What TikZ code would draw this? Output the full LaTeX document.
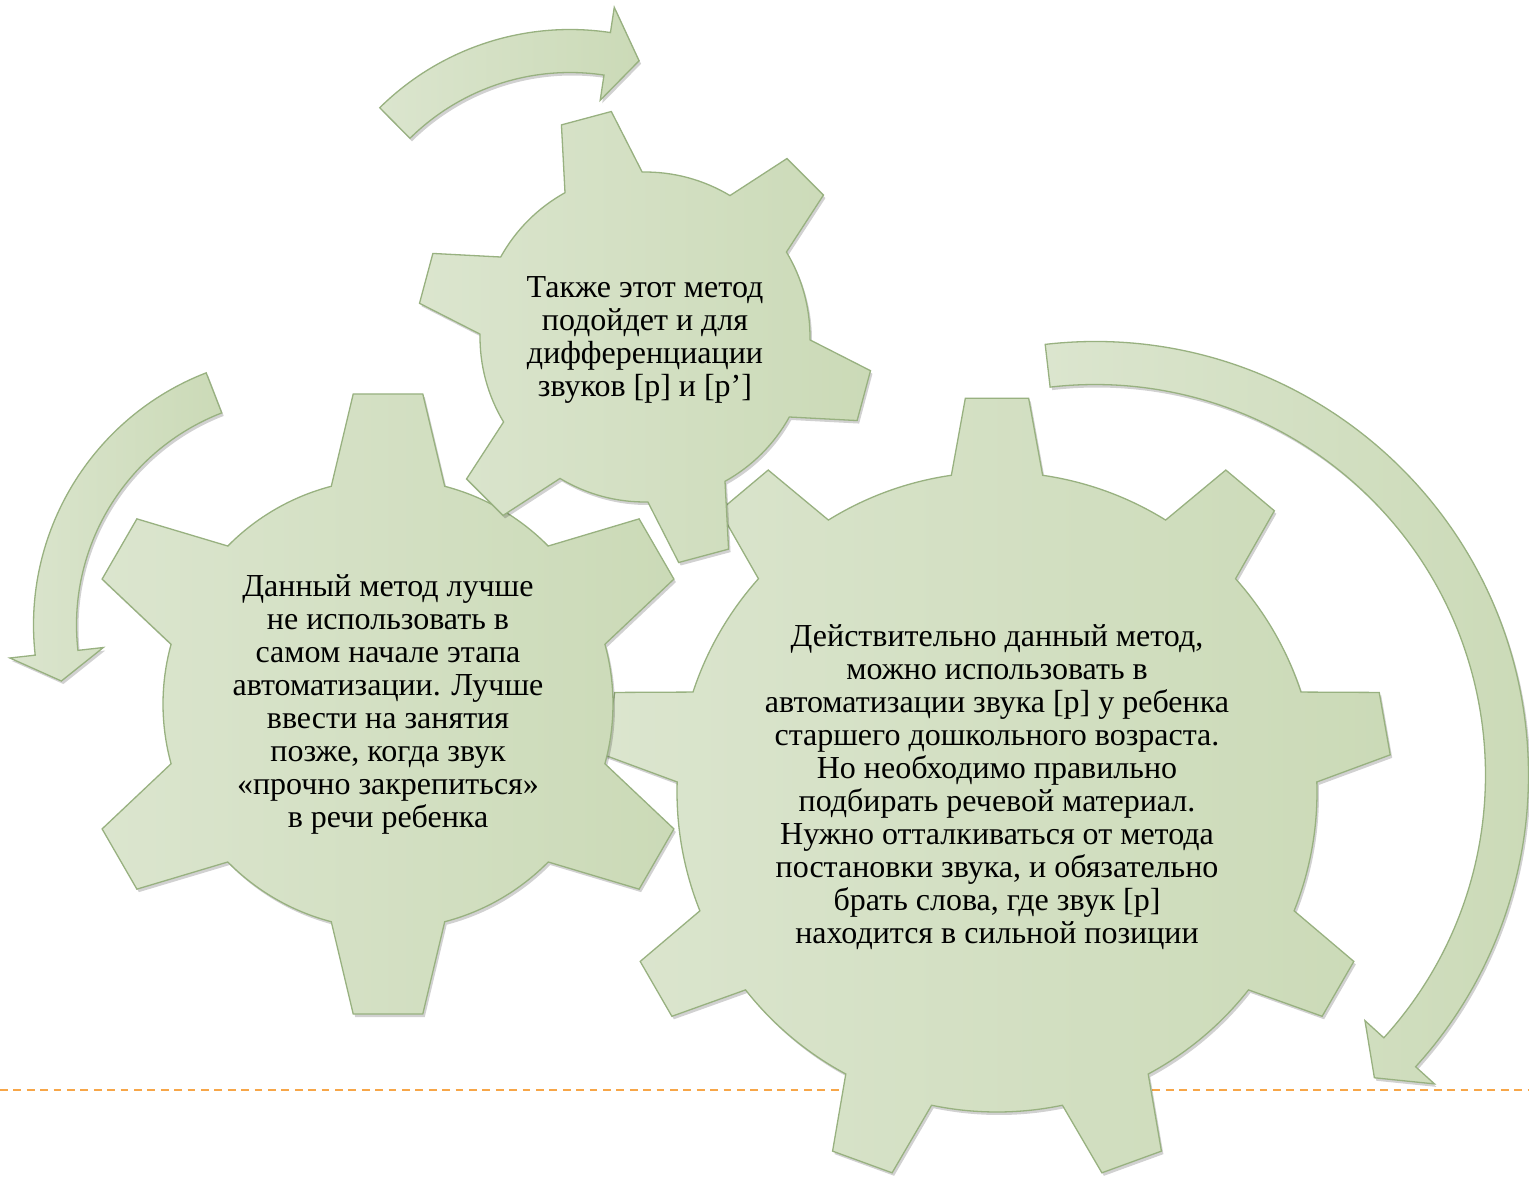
\documentclass[tikz,border=0pt]{standalone}
\usepackage{fontspec}
\setmainfont{Liberation Serif}
\usetikzlibrary{shadows}
\definecolor{gearfill}{RGB}{203,218,183}
\definecolor{gearlight}{RGB}{219,229,206}
\definecolor{gearline}{RGB}{152,177,128}
\definecolor{guide}{RGB}{247,166,72}
\tikzset{
  gearbody/.style={draw=gearline, line width=1.3pt, left color=gearlight, right color=gearfill,
    drop shadow={fill=black, opacity=0.18, shadow xshift=2pt, shadow yshift=-3pt}},
  gtext/.style={align=center, text=black, font=\fontsize{32}{33}\selectfont}
}
\tikzset{
  pics/gear/.style args={#1/#2/#3/#4/#5/#6}{% #1=teeth, #2=inner r, #3=outer r, #4=offset, #5=base half angle, #6=tip half angle
    code = {
      \path[gearbody] ({#4+#5}:#2)
        \foreach \k in {1,...,#1}{
          arc[start angle={#4+(\k-1)*360/#1+#5}, end angle={#4+\k*360/#1-#5}, radius=#2]
          -- ({#4+\k*360/#1-#6}:#3) -- ({#4+\k*360/#1+#6}:#3) -- ({#4+\k*360/#1+#5}:#2)
        } -- cycle;
}}}
\tikzset{
  pics/bentarrow/.style args={#1/#2/#3/#4}{% #1=tail angle, #2=head angle, #3=tip angle, #4=radius
    code = {
      \path[gearbody] ({#1}:{#4+21.5}) arc[start angle=#1, end angle=#2, radius={#4+21.5}]
        -- ({#2}:{#4+47}) -- ({#3}:#4) -- ({#2}:{#4-47}) -- ({#2}:{#4-21.5})
        arc[start angle=#2, end angle=#1, radius={#4-21.5}] -- cycle;
}}}

\begin{document}
\begin{tikzpicture}[x=1pt, y=1pt]
  \useasboundingbox (0,0) rectangle (1529,-1178);
  \fill[white] (0,0) rectangle (1529,-1178);
  % dashed rule behind the gears
  \coordinate (rulel) at (0,-1090);
  \coordinate (ruler) at (1529,-1090);
  \draw[guide, line width=2pt, dash pattern=on 7.7pt off 5.7pt] (rulel) -- (ruler);

  \pic (gearbig) at (997,-792) {gear={9/320/395/10/8.2/4.6}};
  \node[gtext] (bigtext) at (997,-787) {Действительно данный метод,\\можно использовать в\\автоматизации звука [р] у ребенка\\старшего дошкольного возраста.\\Но необходимо правильно\\подбирать речевой материал.\\Нужно отталкиваться от метода\\постановки звука, и обязательно\\брать слова, где звук [р]\\находится в сильной позиции};

  \pic (gearleft) at (388,-704) {gear={6/225/312/30/14.6/6.4}};
  \node[gtext] (lefttext) at (388,-704) {Данный метод лучше\\не использовать в\\самом начале этапа\\автоматизации. Лучше\\ввести на занятия\\позже, когда звук\\«прочно закрепиться»\\в речи ребенка};

  \pic (gearsmall) at (645,-337) {gear={6/165/228/45/14/6.5}};
  \node[gtext] (smalltext) at (645,-340) {Также этот метод\\подойдет и для\\дифференциации\\звуков [р] и [р’]};

  % arrows round the gears
  \pic (arrowtop) at (570,-300) {bentarrow={134.7/81.4/73.9/249}};
  \pic (arrowleft) at (304,-625) {bentarrow={111.2/186.4/193/249}};
  \pic (arrowright) at (1095,-775) {bentarrow={96.6/-42.3/-47.3/412}};
\end{tikzpicture}
\end{document}
